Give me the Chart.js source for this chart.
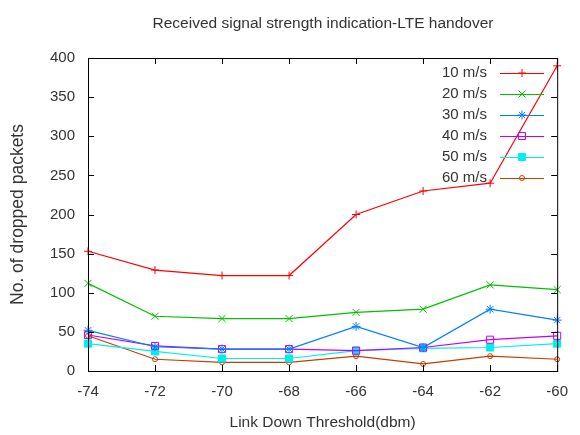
<!DOCTYPE html>
<html>
<head>
<meta charset="utf-8">
<script src="https://cdn.jsdelivr.net/npm/chart.js@4"></script>
<style>
  html, body { margin: 0; padding: 0; background: #fff; }
  #wrap { width: 580px; height: 435px; }
</style>
</head>
<body>
<div id="wrap"><canvas id="rssiChart"></canvas></div>
<script>
const thresholds = ['-74', '-72', '-70', '-68', '-66', '-64', '-62', '-60'];
const speedLabels = ['10 m/s', '20 m/s', '30 m/s', '40 m/s', '50 m/s', '60 m/s'];

const drops10 = [153, 129, 122, 122, 200, 230, 240, 390];
const drops20 = [112, 70, 67, 67, 75, 79, 110, 104];
const drops30 = [52, 31, 28, 28, 57, 30, 79, 65];
const drops40 = [46, 32, 28, 28, 26, 30, 40, 45];
const drops50 = [35, 25, 16, 16, 26, 29, 30, 35];
const drops60 = [45, 15, 11, 11, 19, 9, 19, 15];

const FONT = 'Liberation Sans, Arial, sans-serif';
const TEXT = '#333';

const styles = [
  { color: '#ff0000', point: 'cross', radius: 4, fill: false },
  { color: '#00c000', point: 'crossRot', radius: 5, fill: false },
  { color: '#0080ff', point: 'star', radius: 4.5, fill: false },
  { color: '#c000ff', point: 'rect', radius: 5, fill: false },
  { color: '#00eeee', point: 'rect', radius: 5, fill: true },
  { color: '#c04000', point: 'circle', radius: 2.5, fill: false }
];

const allDrops = [drops10, drops20, drops30, drops40, drops50, drops60];

// gnuplot-like frame, inward ticks, title and key
const framePlugin = {
  id: 'frame',
  afterDraw(chart) {
    const { ctx, chartArea: a, scales } = chart;
    ctx.save();
    ctx.strokeStyle = '#000';
    ctx.lineWidth = 1;
    ctx.strokeRect(a.left + 0.5, a.top + 0.5, a.right - a.left, a.bottom - a.top);
    ctx.beginPath();
    scales.x.ticks.forEach((t, i) => {
      const x = Math.round(scales.x.getPixelForTick(i)) + 0.5;
      ctx.moveTo(x, a.bottom); ctx.lineTo(x, a.bottom - 6);
      ctx.moveTo(x, a.top); ctx.lineTo(x, a.top + 6);
    });
    scales.y.ticks.forEach(t => {
      const y = Math.round(scales.y.getPixelForValue(t.value)) + 0.5;
      ctx.moveTo(a.left, y); ctx.lineTo(a.left + 6, y);
      ctx.moveTo(a.right, y); ctx.lineTo(a.right - 6, y);
    });
    ctx.stroke();

    ctx.fillStyle = TEXT;
    ctx.font = '15.5px ' + FONT;
    ctx.textAlign = 'center';
    ctx.textBaseline = 'middle';
    ctx.fillText('Received signal strength indication-LTE handover', 323, 24);

    ctx.font = '15px ' + FONT;
    chart.data.datasets.forEach((ds, i) => {
      const y = 73 + i * 21;
      ctx.fillStyle = TEXT;
      ctx.textAlign = 'right';
      ctx.fillText(ds.label, 487, y);
      ctx.strokeStyle = ds.borderColor;
      ctx.fillStyle = ds.pointBackgroundColor;
      ctx.lineWidth = 1;
      ctx.beginPath();
      ctx.moveTo(500, y + 0.5); ctx.lineTo(544, y + 0.5);
      ctx.stroke();
      Chart.helpers.drawPoint(ctx, {
        pointStyle: ds.pointStyle, radius: ds.pointRadius, borderWidth: 1, rotation: 0
      }, 522, y);
    });
    ctx.restore();
  }
};

const ctx = document.getElementById('rssiChart').getContext('2d');
new Chart(ctx, {
  type: 'line',
  data: {
    labels: thresholds,
    datasets: allDrops.map((vals, i) => ({
      label: speedLabels[i],
      data: vals,
      borderColor: styles[i].color,
      backgroundColor: styles[i].color,
      pointBackgroundColor: styles[i].fill ? styles[i].color : 'rgba(0,0,0,0)',
      pointBorderColor: styles[i].color,
      pointStyle: styles[i].point,
      pointRadius: styles[i].radius,
      pointBorderWidth: 1,
      borderWidth: 1.2,
      tension: 0,
      fill: false
    }))
  },
  options: {
    responsive: true,
    maintainAspectRatio: false,
    animation: false,
    layout: { padding: { top: 58, right: 17, left: 0, bottom: 0 } },
    plugins: {
      legend: { display: false },
      title: { display: false },
      tooltip: { enabled: false }
    },
    scales: {
      x: {
        offset: false,
        grid: { display: false, drawTicks: false },
        border: { display: false },
        ticks: { color: TEXT, font: { family: FONT, size: 15 }, padding: 12, maxRotation: 0, autoSkip: false },
        title: { display: true, text: 'Link Down Threshold(dbm)', color: TEXT, font: { family: FONT, size: 15.5 }, padding: { top: 0, bottom: 3 } },
        afterFit(scale) { scale.height = 64; }
      },
      y: {
        min: 0,
        max: 400,
        grid: { display: false, drawTicks: false },
        border: { display: false },
        ticks: { stepSize: 50, color: TEXT, font: { family: FONT, size: 15 }, padding: 13 },
        title: { display: true, text: 'No. of dropped packets', color: TEXT, font: { family: FONT, size: 17.5 }, padding: { top: 8, bottom: 0 } },
        afterFit(scale) { scale.width = 88; }
      }
    }
  },
  plugins: [framePlugin]
});
</script>
</body>
</html>
